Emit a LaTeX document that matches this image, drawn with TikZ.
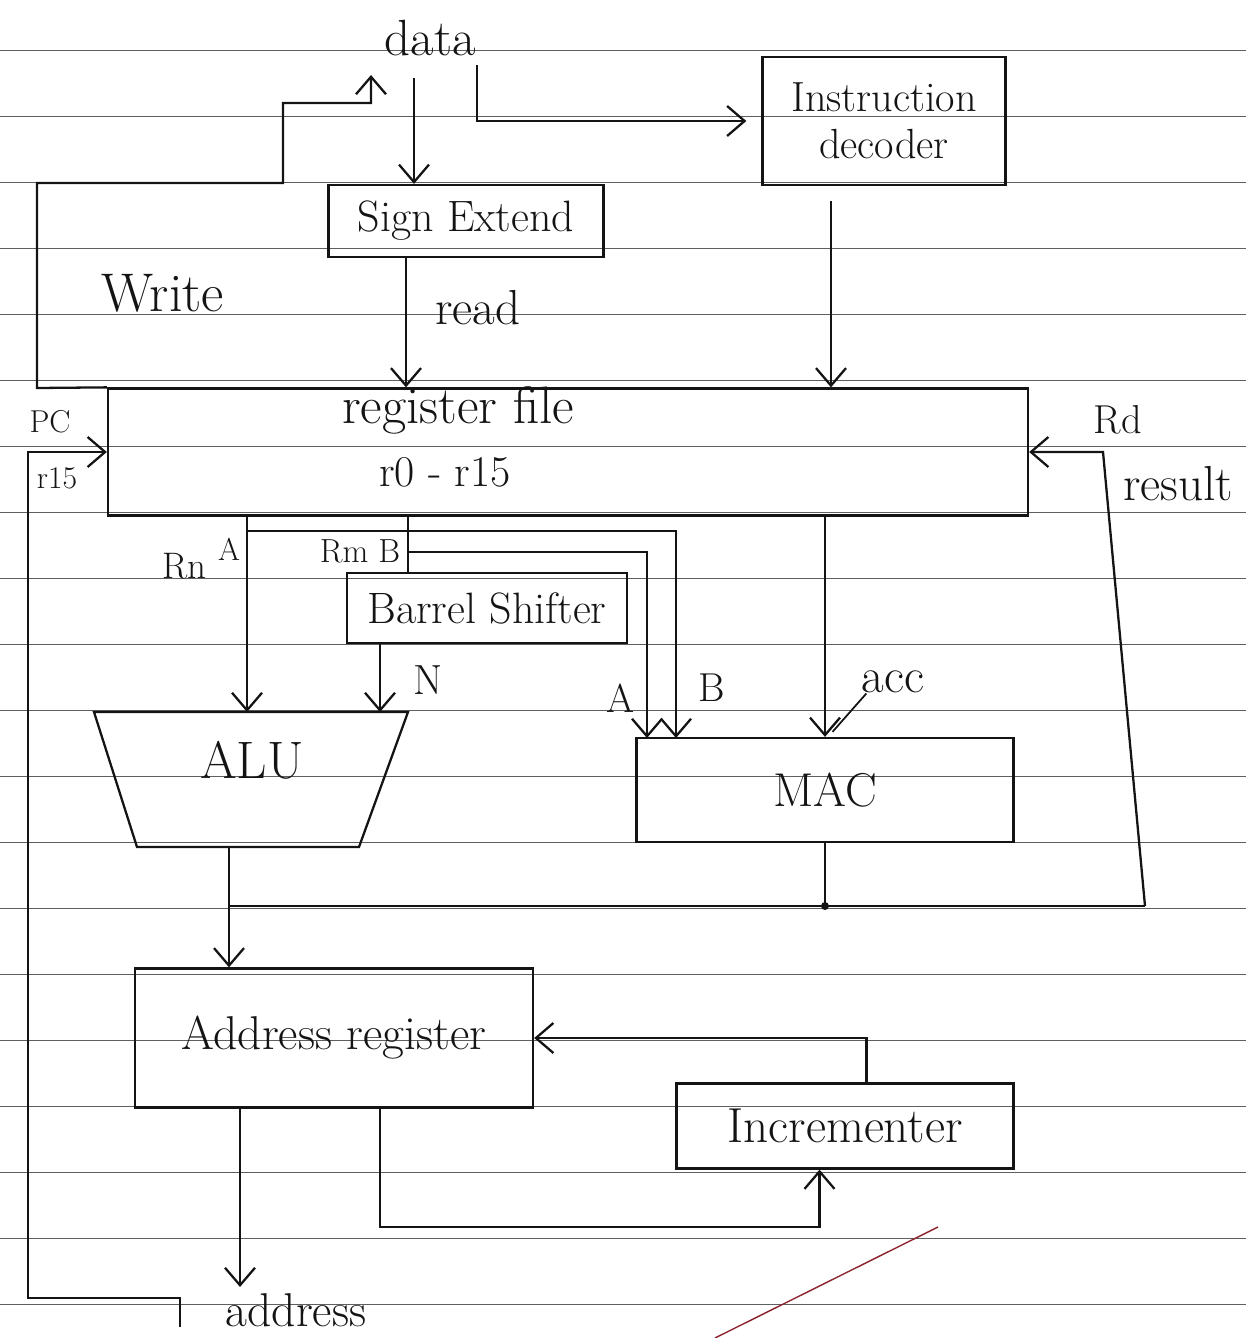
\documentclass[tikz,border=0pt]{standalone}
\usepackage{tikz}
\usepackage{xcolor}
\usetikzlibrary{positioning, arrows.meta}
\definecolor{inkblack}{RGB}{20, 20, 20}
\definecolor{rulegray}{RGB}{95, 95, 95}
\definecolor{penred}{RGB}{140, 35, 45}
\tikzset{
    unitbox/.style={draw=inkblack, line width=1.3pt, inner sep=0pt, align=center, text=inkblack, font=\fontsize{24}{27}\selectfont},
    wire/.style={draw=inkblack, line width=1.3pt},
    arr/.style={wire, -{Straight Barb[length=3.5mm, width=6mm]}},
    lbl/.style={inner sep=0pt, text=inkblack, font=\fontsize{28}{30}\selectfont},
    smalllbl/.style={lbl, font=\fontsize{18}{20}\selectfont},
    ruling/.style={draw=rulegray, line width=0.5pt}
}

\begin{document}
\begin{tikzpicture}[x=0.2mm, y=-0.2mm]
    \useasboundingbox (0,0) rectangle (1246,1338);
    \foreach \y in {50,116,...,1310}
        \draw[ruling] (0,\y) -- (1246,\y);

    \node[unitbox, minimum width=55mm, minimum height=14.4mm, font=\fontsize{25}{27}\selectfont] (sext) at (466,221) {Sign Extend};
    \node[unitbox, minimum width=48.6mm, minimum height=25.6mm] (dec) at (884,121) {Instruction\\decoder};
    \node[unitbox, minimum width=184mm, minimum height=25.4mm] (rf) at (568,452) {};
    \node[lbl, font=\fontsize{30}{32}\selectfont] (rftitle) at (458,410) {register file};
    \node[lbl, font=\fontsize{25}{27}\selectfont] (rfrange) at (445,472) {r0 - r15};
    \node[unitbox, minimum width=56mm, minimum height=14mm, font=\fontsize{25}{27}\selectfont] (bsh) at (487,608) {Barrel Shifter};
    \node[unitbox, minimum width=75.4mm, minimum height=20.8mm, font=\fontsize{27}{29}\selectfont] (mac) at (825,790) {MAC};
    \node[unitbox, minimum width=79.6mm, minimum height=27.8mm, font=\fontsize{27}{29}\selectfont] (adr) at (334,1038) {Address register};
    \node[unitbox, minimum width=67.4mm, minimum height=17mm, font=\fontsize{28}{30}\selectfont] (inc) at (845,1126) {Incrementer};

    \coordinate (alutl) at (94,712);
    \coordinate (alutr) at (408,712);
    \coordinate (alubr) at (359,847);
    \coordinate (alubl) at (137,847);
    \draw[wire] (alutl) -- (alutr) -- (alubr) -- (alubl) -- cycle;
    \node[lbl, font=\fontsize{30}{32}\selectfont] (alu) at (252,760) {ALU};

    \node[lbl, font=\fontsize{29}{31}\selectfont] (data) at (430,38) {data};
    \node[lbl, font=\fontsize{31}{33}\selectfont] (write) at (163,293) {Write};
    \node[lbl] (read) at (478,308) {read};
    \node[smalllbl] (pc) at (50,422) {PC};
    \node[smalllbl] (r15) at (57,478) {r15};
    \node[lbl, font=\fontsize{23}{25}\selectfont] (rd) at (1118,420) {Rd};
    \node[lbl] (result) at (1178,484) {result};
    \node[lbl, font=\fontsize{21}{23}\selectfont] (rn) at (184,566) {Rn};
    \node[smalllbl] (rna) at (229,549) {A};
    \node[smalllbl, font=\fontsize{19}{21}\selectfont] (rmb) at (360,551) {Rm B};
    \node[lbl, font=\fontsize{24}{26}\selectfont] (nlbl) at (428,680) {N};
    \node[lbl, font=\fontsize{23}{25}\selectfont] (maca) at (620,698) {A};
    \node[lbl, font=\fontsize{23}{25}\selectfont] (macb) at (712,688) {B};
    \node[lbl] (acc) at (893,682) {acc};
    \node[lbl, font=\fontsize{27}{29}\selectfont] (addr) at (296,1310) {address};

    \coordinate (din) at (414,78);
    \coordinate (dtap) at (477,65);
    \coordinate (wout) at (371,75);
    \coordinate (pcin) at (180,1327);
    \coordinate (busL) at (229,906);
    \coordinate (busR) at (1145,906);
    \coordinate (aluA) at (247,712);
    \coordinate (aluN) at (380,712);
    \coordinate (rntap) at (247,531);
    \coordinate (rmtap) at (408,552);
    \coordinate (macA) at (647,738);
    \coordinate (macB) at (676,738);
    \coordinate (aout) at (240,1287);

    \draw[arr] (din) -- (din |- sext.north);
    \draw[arr, shorten >=3mm] (dtap) |- (dec.west);
    \draw[arr] (rf.north west) -- (37,388) -- (37,183) -- (283,183) -- (283,103) -- (371,103) -- (wout);
    \draw[arr] ([xshift=-12mm]sext.south) -- ([xshift=-12mm]sext.south |- rf.north);
    \draw[arr] ([xshift=-10.6mm, yshift=-3mm]dec.south) -- ([xshift=-10.6mm]dec.south |- rf.north);
    \draw[arr] (pcin) -- (180,1298) -- (28,1298) |- (rf.west);
    \draw[arr] (busR) -- (1103,452) -- (rf.east);

    \draw[arr] (aluA |- rf.south) -- (aluA);
    \draw[wire] ([xshift=-15.8mm]bsh.north) -- ([xshift=-15.8mm]bsh.north |- rf.south);
    \draw[arr] (aluN |- bsh.south) -- (aluN);
    \draw[arr] (rntap) -| (macB);
    \draw[arr] (rmtap) -| (macA);
    \draw[arr] (mac.north |- rf.south) -- (mac.north);
    \draw[wire, line width=1pt] ([xshift=1.5mm, yshift=1mm]mac.north) -- ([xshift=1mm]acc.south west);

    \draw[wire] (alubl -| busL) -- (busL) -- (busR);
    \draw[wire] (mac.south) -- (mac.south |- busR);
    \fill[inkblack] (mac.south |- busR) circle (0.8mm);
    \draw[arr] (busL) -- (busL |- adr.north);

    \draw[arr] ([xshift=4.3mm]inc.north) |- (adr.east);
    \draw[arr] ([xshift=9.2mm]adr.south) -- ++(0,118) -| ([xshift=-5.1mm]inc.south);
    \draw[arr] (aout |- adr.south) -- (aout);

    \draw[penred, line width=0.8pt] (938,1227) -- (715,1338);
\end{tikzpicture}
\end{document}
